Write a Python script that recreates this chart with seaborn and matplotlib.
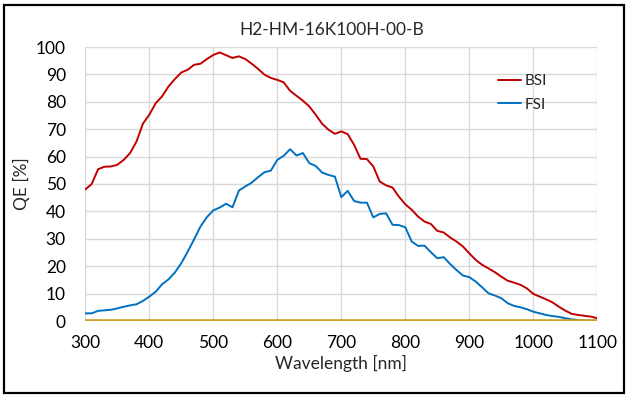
import numpy as np
import pandas as pd
import matplotlib
matplotlib.use("Agg")
import matplotlib.pyplot as plt
import seaborn as sns
from matplotlib.patches import Rectangle

wavelength = list(range(300, 1101, 10))
bsi = [48.0, 50.0, 55.4, 56.3, 56.4, 57.0, 58.8, 61.3, 65.5, 72.0,
       75.3, 79.5, 82.0, 85.6, 88.3, 90.7, 91.7, 93.5, 93.9, 95.6,
       97.1, 98.0, 97.0, 96.0, 96.6, 95.6, 93.9, 92.0, 89.9, 88.7,
       88.0, 87.1, 84.0, 82.2, 80.4, 78.3, 75.3, 72.0, 69.8, 68.3,
       69.2, 68.2, 64.3, 59.2, 59.1, 56.4, 50.9, 49.5, 48.7, 45.4,
       42.6, 40.6, 38.1, 36.3, 35.4, 32.9, 32.3, 30.5, 29.0, 27.2,
       24.7, 22.3, 20.5, 19.2, 17.8, 16.2, 14.7, 14.0, 13.2, 11.9,
       9.9, 8.9, 7.9, 6.8, 5.2, 3.8, 2.6, 2.2, 1.9, 1.6, 1.0]
fsi = [2.8, 2.8, 3.7, 3.9, 4.1, 4.6, 5.2, 5.7, 6.1, 7.3,
       8.9, 10.7, 13.4, 15.2, 17.7, 21.1, 25.3, 29.8, 34.5, 37.9,
       40.4, 41.4, 42.8, 41.5, 47.6, 49.1, 50.5, 52.5, 54.3, 54.9,
       58.8, 60.3, 62.7, 60.4, 61.3, 57.6, 56.6, 54.2, 53.3, 52.7,
       45.2, 47.5, 43.8, 43.2, 43.2, 37.8, 39.1, 39.3, 35.1, 35.0,
       34.2, 29.0, 27.4, 27.5, 25.1, 22.9, 23.3, 20.8, 18.6, 16.6,
       16.0, 14.4, 12.3, 10.1, 9.3, 8.3, 6.5, 5.5, 5.0, 4.3,
       3.4, 2.8, 2.2, 1.8, 1.5, 1.0, 0.6, 0.4, 0.2, 0.1, 0.1]
series_names = ["BSI", "FSI"]
x_ticks = list(range(300, 1101, 100))
y_ticks = list(range(0, 101, 10))
title = "H2-HM-16K100H-00-B"

df = pd.concat([
    pd.DataFrame({"Wavelength": wavelength, "QE": bsi, "Sensor": "BSI"}),
    pd.DataFrame({"Wavelength": wavelength, "QE": fsi, "Sensor": "FSI"}),
])

sns.set_theme(style="white")
plt.rcParams["font.family"] = ["Lato", "DejaVu Sans"]

fig = plt.figure(figsize=(6.29, 3.98), dpi=100)
ax = fig.add_axes([85.3 / 629, 77 / 398, 512 / 629, 274 / 398])

sns.lineplot(data=df, x="Wavelength", y="QE", hue="Sensor",
             hue_order=series_names,
             palette={"BSI": "#C00000", "FSI": "#0070C0"},
             linewidth=1.4, ax=ax, zorder=3)

ax.axhline(0, color="#C9A227", linewidth=2.6, zorder=5)

ax.set_xlim(300, 1100)
ax.set_ylim(0, 100)
ax.set_xticks(x_ticks)
ax.set_yticks(y_ticks)
ax.grid(True, color="#D9D9D9", linewidth=1.0)
for s in ax.spines.values():
    s.set_visible(False)
ax.tick_params(axis="both", length=0, labelsize=12.5, colors="black")
ax.tick_params(axis="x", pad=10)
ax.tick_params(axis="y", pad=14)

ax.set_xlabel("Wavelength [nm]", fontsize=12.5, labelpad=3)
ax.set_ylabel("QE [%]", fontsize=12.5)
ax.yaxis.set_label_coords((30 - 85.3) / 512, 0.5)

leg = ax.legend(loc="upper left", bbox_to_anchor=(0.78, 0.95), frameon=False,
                fontsize=11, handlelength=1.5, handletextpad=0.2,
                labelspacing=0.6)

fig.text(332 / 629, 1 - 30 / 398, title, ha="center", va="center", fontsize=12.5)

fig.patches.append(Rectangle((4 / 629, 5 / 398), 620 / 629, 388 / 398,
                             transform=fig.transFigure, fill=False,
                             edgecolor="black", linewidth=1.6))

fig.savefig("out.png", dpi=100)
